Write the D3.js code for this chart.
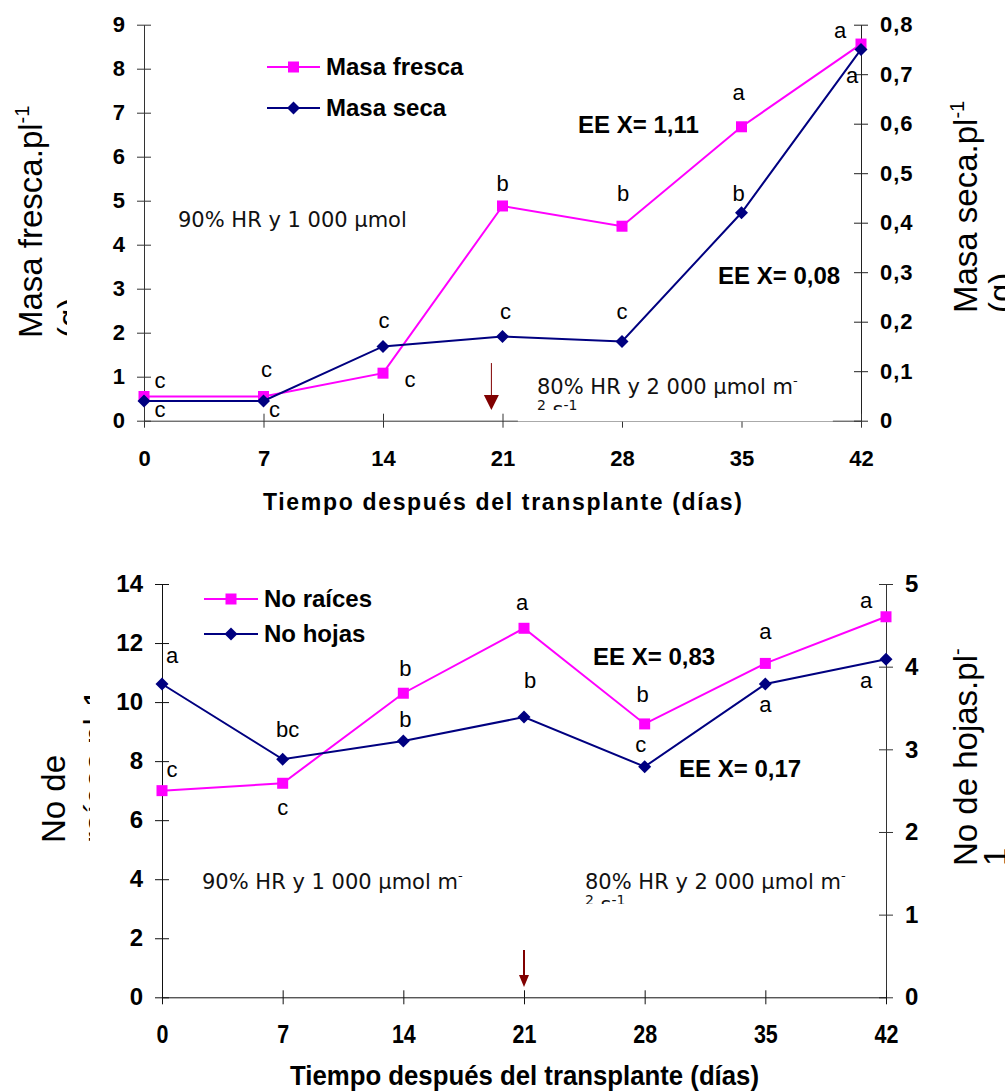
<!DOCTYPE html>
<html><head><meta charset="utf-8">
<script src="https://cdn.jsdelivr.net/npm/d3@7"></script>
<style>body{margin:0;background:#fff} svg{display:block}</style>
</head><body>
<svg id="c" width="1005" height="1092"></svg>
<script>
// ---------------- DATA ----------------
const days = [0, 7, 14, 21, 28, 35, 42];
// top panel
const masaFresca = [0.55, 0.55, 1.08, 4.88, 4.42, 6.68, 8.56];
const masaSeca   = [0.04, 0.04, 0.15, 0.17, 0.16, 0.42, 0.75];
const frescaLetters = ["c", "c", "c", "b", "b", "a", "a"];
const secaLetters   = ["c", "c", "c", "c", "c", "b", "a"];
const topLeftTicks  = [0, 1, 2, 3, 4, 5, 6, 7, 8, 9];
const topRightTicks = [0, 0.1, 0.2, 0.3, 0.4, 0.5, 0.6, 0.7, 0.8];
// bottom panel
const noRaices = [7.0, 7.25, 10.3, 12.5, 9.26, 11.31, 12.89];
const noHojas  = [3.79, 2.88, 3.10, 3.39, 2.79, 3.79, 4.09];
const raicesLetters = ["c", "c", "b", "a", "b", "a", "a"];
const hojasLetters  = ["a", "bc", "b", "b", "c", "a", "a"];
const botLeftTicks  = [0, 2, 4, 6, 8, 10, 12, 14];
const botRightTicks = [0, 1, 2, 3, 4, 5];

// label placement (px offsets from the point: dx, baseline dy)
const frescaLabelPos = [[16,-9],[3,-20],[27,14],[0,-15],[1,-25],[-3,-27],[-21,-6]];
const secaLabelPos   = [[16,16],[11,16],[1,-18],[3,-18],[0,-23],[-3,-12],[-9,34]];
const raicesLabelPos = [[10,-14],[0,32],[2,-17],[-2,-18],[-2,-22],[0,-24],[-20,-9]];
const hojasLabelPos  = [[10,-21],[5,-22],[2,-14],[6,-29],[-4,-15],[0,28],[-20,29]];

// ---------------- STYLE ----------------
const ARIAL = "'Liberation Sans', Arial, sans-serif";
const DEJAVU = "'DejaVu Sans', Verdana, sans-serif";
const MAG = "#FF00FF", NAVY = "#000080", ARROW = "#800000";
const svg = d3.select("#c");
const defs = svg.append("defs");

function addClip(id, x, y, w, h) {
  defs.append("clipPath").attr("id", id).attr("clipPathUnits", "userSpaceOnUse")
    .append("rect").attr("x", x).attr("y", y).attr("width", w).attr("height", h);
}
function square(g, x, y, s, color) {
  g.append("rect").attr("x", x - s/2).attr("y", y - s/2).attr("width", s).attr("height", s).attr("fill", color);
}
function diamond(g, x, y, w, h, color) {
  g.append("path").attr("d", `M${x},${y-h/2}L${x+w/2},${y}L${x},${y+h/2}L${x-w/2},${y}Z`).attr("fill", color);
}
function crossAxis(g, axisFn, scale, ticks, fmt, pos, fontSize, color) {
  const a1 = g.append("g").attr("transform", pos)
    .call(axisFn(scale).tickValues(ticks).tickSize(7).tickSizeOuter(0).tickPadding(12).tickFormat(fmt));
  a1.attr("color", color).attr("font-family", ARIAL).attr("font-size", fontSize).attr("font-weight", "bold");
  a1.selectAll("text").attr("fill", "#000");
  const opp = axisFn === d3.axisLeft ? d3.axisRight : axisFn === d3.axisRight ? d3.axisLeft
            : axisFn === d3.axisBottom ? d3.axisTop : d3.axisBottom;
  const a2 = g.append("g").attr("transform", pos)
    .call(opp(scale).tickValues(ticks).tickSize(7).tickSizeOuter(0).tickFormat(""));
  a2.attr("color", color);
  a2.select(".domain").remove();
  return a1;
}
function drawSeries(g, x, y, vals, color, marker) {
  const line = d3.line().x((d, i) => x(days[i])).y(d => y(d));
  g.append("path").datum(vals).attr("d", line).attr("fill", "none").attr("stroke", color).attr("stroke-width", 2);
  vals.forEach((v, i) => {
    if (marker === "square") square(g, x(days[i]), y(v), 11, color);
    else diamond(g, x(days[i]), y(v), 13, 13, color);
  });
}
function drawLetters(g, x, y, vals, letters, pos) {
  vals.forEach((v, i) => {
    g.append("text").attr("x", x(days[i]) + pos[i][0]).attr("y", y(v) + pos[i][1])
      .attr("text-anchor", "middle").attr("font-family", ARIAL).attr("font-size", 22)
      .attr("fill", "#000").text(letters[i]);
  });
}
function arrow(g, x, y1, y2, y3, hw, lw) {
  g.append("line").attr("x1", x).attr("x2", x).attr("y1", y1).attr("y2", y2)
    .attr("stroke", ARROW).attr("stroke-width", lw);
  g.append("path").attr("d", `M${x-hw},${y2}L${x+hw},${y2}L${x},${y3}Z`).attr("fill", ARROW);
}
function legendItem(g, x1, x2, y, color, marker, label) {
  g.append("line").attr("x1", x1).attr("x2", x2).attr("y1", y).attr("y2", y).attr("stroke", color).attr("stroke-width", 2);
  const mx = (x1 + x2) / 2;
  if (marker === "square") square(g, mx, y, 11, color); else diamond(g, mx, y, 13, 13, color);
  g.append("text").attr("x", x2 + 6).attr("y", y + 8).attr("font-family", ARIAL).attr("font-size", 24)
    .attr("font-weight", "bold").attr("fill", "#000").text(label);
}
function boldText(g, x, y, t, size) {
  g.append("text").attr("x", x).attr("y", y).attr("font-family", ARIAL).attr("font-size", size || 24)
    .attr("font-weight", "bold").attr("fill", "#000").text(t);
}
function cond(g, x, y, main, sup, line2, clipId) {
  const t = g.append("text").attr("x", x).attr("y", y).attr("font-family", DEJAVU).attr("font-size", 21).attr("fill", "#111");
  t.text(main);
  if (sup) t.append("tspan").attr("font-size", 13).attr("dy", -9).text(sup);
  if (line2) {
    const c = g.append("g").attr("clip-path", `url(#${clipId})`);
    const t2 = c.append("text").attr("x", x).attr("y", y + 23).attr("font-family", DEJAVU).attr("font-size", 21).attr("fill", "#111");
    t2.append("tspan").attr("font-size", 14).attr("dy", -7).text("2");
    t2.append("tspan").attr("dy", 7).text(" s");
    t2.append("tspan").attr("font-size", 14).attr("dy", -7).text("-1");
  }
}
function rotTitle(g, x, y, main, sup, size) {
  const t = g.append("text").attr("transform", `translate(${x},${y}) rotate(-90)`)
    .attr("font-family", ARIAL).attr("font-size", size).attr("fill", "#000").text(main);
  if (sup) t.append("tspan").attr("font-size", 20).attr("dy", -13).text(sup);
}

// ================= TOP PANEL =================
const gT = svg.append("g");
const xT = d3.scaleLinear().domain([0, 42]).range([144, 861]);
const yTL = d3.scaleLinear().domain([0, 9]).range([420.7, 24.7]);
const yTR = d3.scaleLinear().domain([0, 0.8]).range([420.7, 24.7]);
const commaFmt = d => d === 0 ? "0" : d3.format(".1f")(d).replace(".", ",");

crossAxis(gT, d3.axisLeft, yTL, topLeftTicks, d3.format("d"), "translate(144,0)", 22, "#333");
crossAxis(gT, d3.axisRight, yTR, topRightTicks, commaFmt, "translate(861,0)", 22, "#222")
  .selectAll("text").attr("letter-spacing", 1);
const axTB = crossAxis(gT, d3.axisBottom, xT, days, d3.format("d"), "translate(0,420.7)", 22, "#333");
axTB.selectAll("text").attr("y", 45).attr("dy", 0);

// text box of the 80% annotation covers part of the baseline
gT.append("rect").attr("x", xT(21.9)).attr("y", 376).attr("width", xT(40.35) - xT(21.9)).attr("height", 45.4).attr("fill", "#fff");

drawSeries(gT, xT, yTL, masaFresca, MAG, "square");
drawSeries(gT, xT, yTR, masaSeca, NAVY, "diamond");
drawLetters(gT, xT, yTL, masaFresca, frescaLetters, frescaLabelPos);
drawLetters(gT, xT, yTR, masaSeca, secaLetters, secaLabelPos);

legendItem(gT, 267, 320, 67, MAG, "square", "Masa fresca");
legendItem(gT, 267, 320, 108, NAVY, "diamond", "Masa seca");

boldText(gT, 578, 133, "EE X= 1,11");
boldText(gT, 718, 284, "EE X= 0,08");

cond(gT, 178, 227, "90% HR y 1 000 µmol", null, false);
addClip("clipT80", 500, 360, 400, 50);
cond(gT, 537, 394, "80% HR y 2 000 µmol m", "-", true, "clipT80");

arrow(gT, xT(20.35), yTL(1.31), yTL(0.584), yTL(0.243), 7.5, 1);

// titles (second lines cut off as in the original)
addClip("clipTL", 0, 0, 67, 500);
const tl = gT.append("g").attr("clip-path", "url(#clipTL)");
rotTitle(tl, 42, 338, "Masa fresca.pl", "-1", 33);
rotTitle(tl, 81, 338, "(g)", null, 33);
rotTitle(gT, 977, 313, "Masa seca.pl", "-1", 33);
rotTitle(gT, 1012, 313, "(g)", null, 33);

gT.append("text").attr("x", 263).attr("y", 510).attr("font-family", ARIAL).attr("font-size", 23)
  .attr("font-weight", "bold").attr("textLength", 479).attr("lengthAdjust", "spacing")
  .attr("fill", "#000").text("Tiempo  después del transplante (días)");

// ================= BOTTOM PANEL =================
const gB = svg.append("g");
const xB = d3.scaleLinear().domain([0, 42]).range([162, 886]);
const yBL = d3.scaleLinear().domain([0, 14]).range([997.3, 584]);
const yBR = d3.scaleLinear().domain([0, 5]).range([997.3, 584]);

crossAxis(gB, d3.axisLeft, yBL, botLeftTicks, d3.format("d"), "translate(162,0)", 24, "#111");
crossAxis(gB, d3.axisRight, yBR, botRightTicks, d3.format("d"), "translate(886,0)", 24, "#333");
const axBB = crossAxis(gB, d3.axisBottom, xB, days, d3.format("d"), "translate(0,997.3)", 25, "#111");
axBB.selectAll("text").attr("y", 46).attr("dy", 0).attr("transform", "scale(0.86,1)");

drawSeries(gB, xB, yBL, noRaices, MAG, "square");
drawSeries(gB, xB, yBR, noHojas, NAVY, "diamond");
drawLetters(gB, xB, yBL, noRaices, raicesLetters, raicesLabelPos);
drawLetters(gB, xB, yBR, noHojas, hojasLetters, hojasLabelPos);

legendItem(gB, 204, 258, 599, MAG, "square", "No raíces");
legendItem(gB, 204, 258, 634, NAVY, "diamond", "No hojas");

boldText(gB, 593, 665, "EE X= 0,83");
boldText(gB, 679, 777, "EE X= 0,17");

cond(gB, 202, 889, "90% HR y 1 000 µmol m", "-", false);
addClip("clipB80", 560, 860, 330, 44);
cond(gB, 585, 889, "80% HR y 2 000 µmol m", "-", true, "clipB80");

arrow(gB, xB(21), yBL(1.60), yBL(0.755), yBL(0.35), 5, 2);

addClip("clipBL", 0, 560, 90, 500);
const bl = gB.append("g").attr("clip-path", "url(#clipBL)");
rotTitle(bl, 65, 843, "No de", null, 33);
rotTitle(bl, 107, 843, "raíces.pl-1", null, 33);
rotTitle(gB, 977, 866, "No de hojas.pl", "-", 33);
rotTitle(gB, 1007, 866, "1", null, 33);

gB.append("text").attr("x", 290).attr("y", 1085).attr("font-family", ARIAL).attr("font-size", 28)
  .attr("font-weight", "bold").attr("textLength", 469).attr("lengthAdjust", "spacingAndGlyphs")
  .attr("fill", "#000").text("Tiempo después del transplante (días)");
</script>
</body></html>
